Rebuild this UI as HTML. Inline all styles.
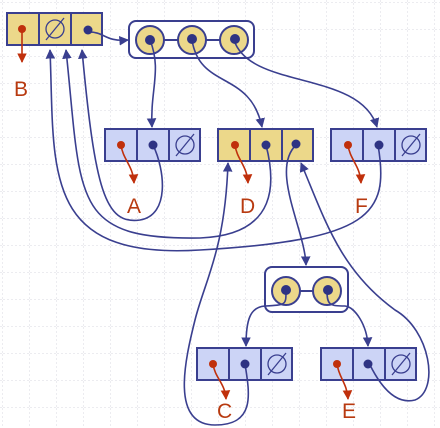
<!DOCTYPE html>
<html><head><style>
body{margin:0;background:#fff}
svg{display:block}
text{font-family:"Liberation Sans",sans-serif;font-size:21px;fill:#b83a10}
</style></head><body>
<svg width="440" height="428" viewBox="0 0 440 428" xmlns="http://www.w3.org/2000/svg">
<defs>
<pattern id="g" width="27" height="27" patternUnits="userSpaceOnUse" x="3" y="3">
<path d="M27 0V27M0 27H27" stroke="#d8d8e0" stroke-width="1" stroke-dasharray="2,2" fill="none"/>
</pattern>
<marker id="ab" viewBox="0 0 10 10" refX="9" refY="5" markerWidth="6" markerHeight="6" orient="auto"><path d="M0 0L10 5L0 10z" fill="#3a3f8f"/></marker>
<marker id="ar" viewBox="0 0 10 10" refX="9" refY="5" markerWidth="6" markerHeight="6" orient="auto"><path d="M0 0L10 5L0 10z" fill="#c0300c"/></marker>
</defs>
<rect width="440" height="428" fill="url(#g)"/>
<g stroke="#3a3f8f" stroke-width="2">
<rect x="7" y="13" width="95" height="32" fill="#ecd88a"/><line x1="39" y1="13" x2="39" y2="45"/><line x1="71" y1="13" x2="71" y2="45"/>
<rect x="105" y="129" width="95" height="32" fill="#ccd4f6"/><line x1="137" y1="129" x2="137" y2="161"/><line x1="169" y1="129" x2="169" y2="161"/>
<rect x="218" y="129" width="95" height="32" fill="#ecd88a"/><line x1="250" y1="129" x2="250" y2="161"/><line x1="282" y1="129" x2="282" y2="161"/>
<rect x="331" y="129" width="95" height="32" fill="#ccd4f6"/><line x1="363" y1="129" x2="363" y2="161"/><line x1="395" y1="129" x2="395" y2="161"/>
<rect x="197" y="348" width="95" height="32" fill="#ccd4f6"/><line x1="229" y1="348" x2="229" y2="380"/><line x1="261" y1="348" x2="261" y2="380"/>
<rect x="321" y="348" width="95" height="32" fill="#ccd4f6"/><line x1="353" y1="348" x2="353" y2="380"/><line x1="385" y1="348" x2="385" y2="380"/>
<rect x="129" y="21" width="125" height="37" rx="7" fill="#fff"/>
<line x1="150" y1="40" x2="234" y2="40"/>
<circle cx="150" cy="40" r="14" fill="#ecd88a"/><circle cx="192" cy="40" r="14" fill="#ecd88a"/><circle cx="234" cy="40" r="14" fill="#ecd88a"/>
<rect x="265" y="267" width="83" height="45" rx="7" fill="#fff"/>
<line x1="286" y1="291" x2="327" y2="291"/>
<circle cx="286" cy="291" r="14" fill="#ecd88a"/><circle cx="327" cy="291" r="14" fill="#ecd88a"/>
</g>
<g stroke="#3a3f8f" stroke-width="1.3" fill="none">
<circle cx="55" cy="29" r="9"/><line x1="46" y1="40" x2="64" y2="18"/>
<circle cx="185" cy="145" r="9"/><line x1="176" y1="156" x2="194" y2="134"/>
<circle cx="411" cy="145" r="9"/><line x1="402" y1="156" x2="420" y2="134"/>
<circle cx="277" cy="364" r="9"/><line x1="268" y1="375" x2="286" y2="353"/>
<circle cx="401" cy="364" r="9"/><line x1="392" y1="375" x2="410" y2="353"/>
</g>
<g stroke="#3a3f8f" stroke-width="1.6" fill="none" marker-end="url(#ab)">
<path d="M89 32C105 32 105 42 128 40"/>
<path d="M150 40C162 70 150 90 152 127"/>
<path d="M192 40C200 90 250 70 262 127"/>
<path d="M234 40C250 90 360 70 377 127"/>
<path d="M153 145C165 170 170 215 140 220C105 225 95 190 82 50"/>
<path d="M266 145C275 180 280 235 200 238C70 240 82 200 66 50"/>
<path d="M378 145C390 215 370 240 200 250C40 260 55 170 50 50"/>
<path d="M296 145C270 170 305 230 306 265"/>
<path d="M286 291C286 305 286 305 265 306C250 307 246 320 246 346"/>
<path d="M327 291C327 305 330 306 345 306C355 307 367 325 368 346"/>
<path d="M245 364C250 395 255 425 215 425C170 425 185 360 195 320C205 280 225 250 228 163"/>
<path d="M370 365C380 385 395 405 415 400C440 390 430 330 395 310C340 270 325 220 301 163"/>
</g>
<g stroke="#c0300c" stroke-width="1.6" fill="none" marker-end="url(#ar)">
<path d="M22 29L22 62"/>
<path d="M121 145C123 160 133 165 134 183"/>
<path d="M235 145C237 160 247 165 248 183"/>
<path d="M348 145C350 160 360 165 361 183"/>
<path d="M213 364C215 378 225 383 226 399"/>
<path d="M337 364C339 378 347 383 348 399"/>
</g>
<g fill="#c0300c">
<circle cx="22" cy="29" r="4"/><circle cx="121" cy="145" r="4"/><circle cx="235" cy="145" r="4"/><circle cx="348" cy="145" r="4"/><circle cx="213" cy="364" r="4"/><circle cx="337" cy="364" r="4"/>
</g>
<g fill="#2e3383">
<circle cx="88" cy="30" r="4.5"/><circle cx="153" cy="145" r="4.5"/><circle cx="266" cy="145" r="4.5"/><circle cx="296" cy="144" r="4.5"/><circle cx="379" cy="145" r="4.5"/><circle cx="245" cy="364" r="4.5"/><circle cx="368" cy="364" r="4.5"/>
<circle cx="150" cy="40" r="5"/><circle cx="192" cy="39" r="5"/><circle cx="235" cy="39" r="5"/><circle cx="286" cy="290" r="5"/><circle cx="328" cy="290" r="5"/>
</g>
<text x="14" y="96">B</text>
<text x="127" y="213">A</text>
<text x="240" y="213">D</text>
<text x="355" y="213">F</text>
<text x="217" y="418">C</text>
<text x="342" y="418">E</text>
</svg>
</body></html>
